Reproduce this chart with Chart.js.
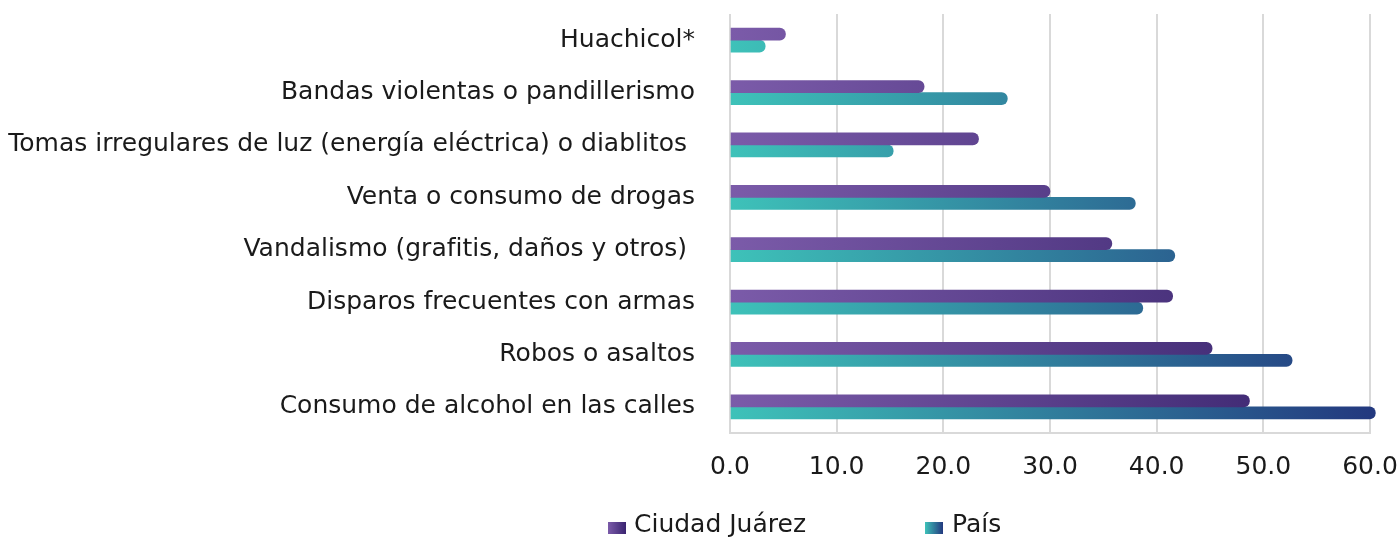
<!DOCTYPE html>
<html lang="es">
<head>
  <meta charset="UTF-8">
  <title>Ciudad Juárez vs País</title>
  <script src="https://cdn.jsdelivr.net/npm/chart.js"></script>
  <style>
    body {
      margin: 0;
      background: #fff;
      font-family: "DejaVu Sans", sans-serif;
    }
    .wrap {
      position: relative;
      width: 1400px;
      height: 538px;
    }
    .leyenda {
      position: absolute;
      top: 510px;
      left: 0;
      width: 1400px;
      height: 28px;
      font-size: 25px;
      color: #1a1a1a;
    }
    .leyenda span {
      position: absolute;
      top: 0;
      line-height: 28px;
    }
    .caja {
      position: absolute;
      top: 12px;
      width: 18px;
      height: 12px;
    }
  </style>
</head>
<body>
<div class="wrap">
  <canvas id="grafica"></canvas>
  <div class="leyenda">
    <div class="caja" style="left:608px; background: linear-gradient(90deg, #7b5ba9, #3a2470);"></div>
    <span style="left:634px;">Ciudad Juárez</span>
    <div class="caja" style="left:925px; background: linear-gradient(90deg, #3ec2b9, #23397f);"></div>
    <span style="left:952px;">País</span>
  </div>
</div>

<script>
  const categorias = [
    'Huachicol*',
    'Bandas violentas o pandillerismo',
    'Tomas irregulares de luz (energía eléctrica) o diablitos ',
    'Venta o consumo de drogas',
    'Vandalismo (grafitis, daños y otros) ',
    'Disparos frecuentes con armas',
    'Robos o asaltos',
    'Consumo de alcohol en las calles'
  ];
  const ciudadJuarez = [5.2, 18.2, 23.3, 30.0, 35.8, 41.5, 45.2, 48.7];
  const pais = [3.3, 26.0, 15.3, 38.0, 41.7, 38.7, 52.7, 60.5];
  const ticksX = [0, 10, 20, 30, 40, 50, 60];

  // degradado a lo ancho del area de la grafica
  function degradado(ctx, desde, hasta) {
    const area = ctx.chart.chartArea;
    if (!area) return desde;
    const g = ctx.chart.ctx.createLinearGradient(area.left, 0, area.right, 0);
    g.addColorStop(0, desde);
    g.addColorStop(1, hasta);
    return g;
  }

  new Chart(document.getElementById('grafica'), {
    type: 'bar',
    data: {
      labels: categorias,
      datasets: [
        {
          label: 'Ciudad Juárez',
          data: ciudadJuarez,
          backgroundColor: ctx => degradado(ctx, '#7b5ba9', '#36226b'),
          barThickness: 12,
          borderRadius: 6,
          borderSkipped: 'start',
          clip: false
        },
        {
          label: 'País',
          data: pais,
          backgroundColor: ctx => degradado(ctx, '#3ec2b9', '#23397f'),
          barThickness: 12,
          borderRadius: 6,
          borderSkipped: 'start',
          clip: false
        }
      ]
    },
    options: {
      indexAxis: 'y',
      responsive: true,
      maintainAspectRatio: false,
      animation: false,
      layout: {
        autoPadding: false,
        padding: { left: 0, top: 14, right: 30, bottom: 0 }
      },
      plugins: {
        legend: { display: false },
        tooltip: { enabled: false }
      },
      scales: {
        x: {
          min: 0,
          max: 60,
          afterBuildTicks: scale => {
            scale.ticks = ticksX.map(v => ({ value: v }));
          },
          afterFit: scale => {
            scale.height = 105;
            scale.paddingLeft = 0;
            scale.paddingRight = 0;
          },
          grid: { color: '#d9d9d9', lineWidth: 2, drawTicks: false },
          border: { display: true, color: '#d9d9d9', width: 2 },
          ticks: {
            padding: 19,
            color: '#1a1a1a',
            font: { family: 'DejaVu Sans', size: 25 },
            callback: v => Number(v).toFixed(1)
          }
        },
        y: {
          afterFit: scale => {
            scale.width = 730;
            scale.paddingTop = 0;
            scale.paddingBottom = 0;
          },
          grid: { display: false, drawTicks: false },
          border: { display: false },
          ticks: {
            padding: 35,
            color: '#1a1a1a',
            font: { family: 'DejaVu Sans', size: 25 }
          }
        }
      }
    }
  });
</script>
</body>
</html>
